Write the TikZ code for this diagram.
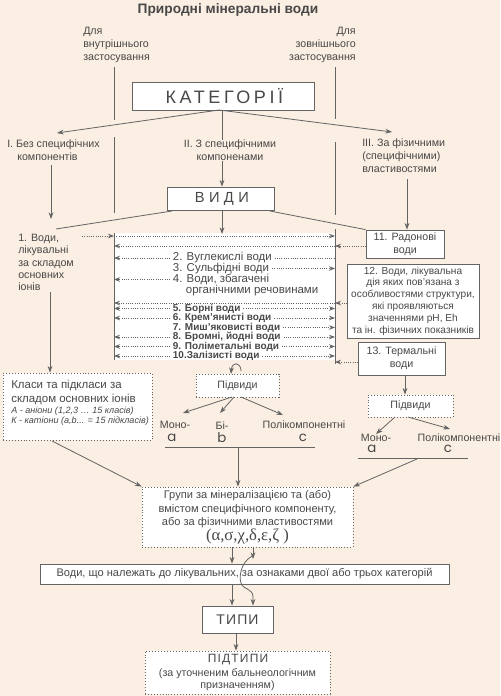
\documentclass[tikz,border=0pt]{standalone}
\usepackage{fontspec}
\setmainfont{Liberation Sans}
\newfontfamily\serifgr{Liberation Serif}
\newfontfamily\geo{Poppins}
\newfontfamily\katfont[LetterSpace=20]{Liberation Sans}
\newfontfamily\vidfont[LetterSpace=30]{Liberation Sans}
\newfontfamily\tipfont[LetterSpace=8]{Liberation Sans}
\newfontfamily\ptipfont[LetterSpace=10]{Liberation Sans}
\usetikzlibrary{arrows.meta}
\definecolor{bg}{RGB}{251,238,226}
\definecolor{txtc}{RGB}{72,72,72}
\definecolor{linec}{RGB}{100,100,100}
\newcommand{\fs}[2]{\fontsize{#1}{#2}\selectfont}
\begin{document}
\begin{tikzpicture}[x=0.75pt,y=-0.75pt,
  txt/.style={text=txtc,inner sep=0pt,font=\fs{8}{9.75}},
  box/.style={draw=linec,fill=white,line width=0.6pt,inner sep=0pt,text=txtc},
  dbox/.style={box,dash pattern=on 0.7pt off 1.5pt},
  ln/.style={draw=linec,line width=0.6pt},
  arr/.style={ln,-{Stealth[length=5pt,width=3.6pt]}},
  dln/.style={ln,dash pattern=on 0.6pt off 1.1pt},
  darr/.style={dln,-{Stealth[length=4.5pt,width=3.4pt]}},
  row/.style={txt,inner xsep=2pt,anchor=west,font=\fs{8.6}{10}},
  brow/.style={row,font=\bfseries\fs{7.5}{8.5}},
  geol/.style={txt,font=\geo\fs{10}{12}},
]
\useasboundingbox (0,0) rectangle (500,696);
\fill[bg] (0,0) rectangle (500,696);

% ---- top
\node[txt,font=\bfseries\fs{10.3}{12}] (title) at (228,10) {Природні мінеральні води};
\node[txt,align=left,anchor=west] (int) at (83,45) {Для\\внутрішнього\\застосування};
\node[txt,align=right,anchor=east] (ext) at (356,45) {Для\\зовнішнього\\застосування};
\node[box,minimum width=136.5pt,minimum height=21pt] (kat) at (223,96) {\katfont\fs{13.5}{15}\kern2pt КАТЕГОРІЇ};

\node[txt,align=left,anchor=west] (c1) at (7,150.5) {I. Без специфічних\\\hspace*{7.5pt}компонентів};
\node[txt,align=center] (c2) at (230,150.5) {II. З специфічними\\компоненами};
\node[txt,align=left,anchor=west] (c3) at (362,156) {III. За фізичними\\(специфічними)\\властивостями};

\node[box,minimum width=80.25pt,minimum height=17.25pt] (vid) at (220.5,198.5) {\vidfont\fs{11}{13}\kern2pt ВИДИ};

% helper coordinates
\coordinate (L) at (114,0);
\coordinate (R) at (335,0);
\coordinate (k0) at (219,110);
\coordinate (k1) at (57,133);
\coordinate (k3) at (392,132);
\coordinate (mx) at (222,0);

% vertical guide lines
\draw[ln] (114,67) -- (114,120);
\draw[ln] (114,137) -- (114,213);
\draw[ln] (335,67) -- (335,119);
\draw[ln] (335,142) -- (335,215);

% category connectors
\draw[arr] (k0) -- (k1);
\draw[arr] (k0) -- (k3);
\draw[ln] (kat.south -| mx) -- (c2.north -| mx);
\draw[arr] (c2.south -| mx) -- (vid.north -| mx);
\coordinate (c1a) at (51,165);
\coordinate (c1b) at (51,219);
\draw[arr] (c1a) -- (c1b);
\coordinate (c3a) at (407,179);

% ---- main block
\node[fill=white,inner sep=0pt,minimum width=165.75pt,minimum height=95.25pt] (blk) at (224.5,296.5) {};
\draw[ln] (114,233) -- (114,360);
\draw[ln] (335,229) -- (335,364);

\node[box,align=center,font=\fs{8}{9.75},minimum width=58.5pt,minimum height=21pt] (b11) at (405,244) {11. Радонові\\води};
\node[box,align=center,font=\fs{7.6}{8.85},minimum width=99pt,minimum height=55.5pt] (b12) at (413,301) {12. Води, лікувальна\\дія яких пов'язана з\\особливостями структури,\\які проявляються\\значеннями pH, Eh\\та ін. фізичних показників};
\node[box,align=center,font=\fs{8}{9.75},minimum width=65.25pt,minimum height=24.75pt] (b13) at (401.5,358.5) {13. Термальні\\води};

\draw[arr] (c3a) -- (c3a |- b11.north);

% VIDY connectors
\node[txt,align=left,anchor=west,font=\fs{8}{9.15}] (w1) at (18,262.5) {1. Води,\\лікувальні\\за складом\\основних\\іонів};
\coordinate (v1) at (172,211);
\coordinate (v1e) at (56,229);
\draw[ln] (v1) -- (v1e);
\draw[arr] (vid.south -| mx) -- (222,234);
\coordinate (v3) at (270,211);
\draw[ln] (v3) -- (b11.north west);

% dotted rows
\coordinate (a1) at (82,236);
\draw[darr] (a1) -- (a1 -| L);
\draw[darr] (a1 -| L) -- (a1 -| R);
\coordinate (a2) at (366,246);
\draw[darr] (a2) -- (a2 -| R);
\draw[darr] (a2 -| R) -- (a2 -| L);

\node[row] (r2) at (170,258) {2. Вуглекислі води};
\node[row] (r3) at (170,268.5) {3. Сульфідні води};
\node[row] (r4) at (170,279.5) {4. Води, збагачені};
\node[row] (r4b) at (183,291) {органічними речовинами};
\draw[darr] (r2.west) -- (r2.west -| L);
\draw[dln] (r2.east) -- (r2.east -| R);
\draw[darr] (r3.east) -- (r3.east -| R);
\draw[darr] (r4.west) -- (r4.west -| L);

\coordinate (a3) at (347,303);
\draw[darr] (a3) -- (a3 -| R);
\draw[darr] (a3 -| R) -- (a3 -| L);

\node[brow] (r5) at (170,308.5) {5. Борні води};
\node[brow] (r6) at (170,318) {6. Крем'янисті води};
\node[brow] (r7) at (170,327.5) {7. Миш'яковисті води};
\node[brow] (r8) at (170,337) {8. Бромні, йодні води};
\node[brow] (r9) at (170,346.5) {9. Поліметальні води};
\node[brow] (r10) at (170,356) {10.Залізисті води};
\foreach \r in {r5,r6,r8,r9,r10} {\draw[darr] (\r.west) -- (\r.west -| L);}
\foreach \r in {r5,r6,r7,r8,r9,r10} {\draw[darr] (\r.east) -- (\r.east -| R);}
\coordinate (a4) at (358,362);
\draw[darr] (a4) -- (a4 -| R);

% ---- right subtypes
\node[dbox,font=\fs{8}{10},minimum width=63.75pt,minimum height=16.5pt] (pvR) at (410.5,406) {Підвиди};
\coordinate (bx) at (405,0);
\draw[arr] (b13.south -| bx) -- (pvR.north -| bx);
\node[txt] (mR) at (376,438) {Моно-};
\node[geol] (aR) at (372,449) {a};
\node[txt] (pR) at (459,438) {Полікомпонентні};
\node[geol] (cR) at (448,449) {c};
\coordinate (pr1) at (395,417);
\coordinate (pr2) at (408,417);
\coordinate (pr3) at (450,429);
\draw[arr] (pr1) -- (mR.north);
\draw[arr] (pr2) -- (pr3);
\coordinate (uR1) at (358,458);
\coordinate (uR2) at (468,458);
\draw[ln] (uR1) -- (uR2);

% ---- middle subtypes
\node[dbox,font=\fs{8}{10},minimum width=62.25pt,minimum height=17.25pt] (pvM) at (237.5,385.5) {Підвиди};
\coordinate (cu) at (241,371);
\draw[arr] (cu) .. controls (241,362) and (232,361) .. (231,374);
\node[txt] (mM) at (175,425) {Моно-};
\node[geol] (aM) at (172,438) {a};
\node[txt] (bM) at (222,426) {Бі-};
\node[geol] (bbM) at (222,438) {b};
\node[txt] (pM) at (304,425) {Полікомпонентні};
\node[geol] (cM) at (303,438) {c};
\coordinate (pm1) at (232,397);
\coordinate (pm2) at (234,397);
\coordinate (pm3) at (241,397);
\draw[arr] (pm1) -- (183,413);
\draw[arr] (pm2) -- (220,413);
\draw[arr] (pm3) -- (283,415);
\coordinate (uM1) at (165,447);
\coordinate (uM2) at (315,447);
\draw[ln] (uM1) -- (uM2);

% ---- classes box
\node[dbox,minimum width=111.75pt,minimum height=50.25pt] (kls) at (77.5,406.5) {};
\node[txt,anchor=west,font=\fs{8.6}{10}] (kl1) at (11,385) {Класи та підкласи за};
\node[txt,anchor=west,font=\fs{8.6}{10}] (kl2) at (11,399.5) {складом основних іонів};
\node[txt,anchor=west,font=\itshape\fs{6.8}{8}] (kl3) at (11,411) {А - аніони (1,2,3 … 15 класів)};
\node[txt,anchor=west,font=\itshape\fs{6.8}{8}] (kl4) at (11,421) {К - катіони (а,b... = 15 підкласів)};
\coordinate (wx) at (50,292);
\draw[arr] (wx) -- (kls.north -| wx);

% ---- groups
\node[dbox,minimum width=158.25pt,minimum height=45pt] (grp) at (247.5,517) {};
\node[txt,font=\fs{8.3}{10}] (g1) at (247.5,496) {Групи за мінералізацією та (або)};
\node[txt,font=\fs{8.3}{10}] (g2) at (247.5,509.5) {вмістом специфічного компоненту,};
\node[txt,font=\fs{8.3}{10}] (g3) at (247.5,523) {або за фізичними властивостями};
\node[txt,font=\serifgr\fs{12.5}{14}] (g4) at (247.5,536.5) {(α,σ,χ,δ,ε,ζ )};

\coordinate (kx) at (52,441);
\draw[arr] (kx) -- (grp.north west);
\coordinate (my) at (238,0);
\draw[arr] (uM1 -| my) -- (grp.north -| my);
\coordinate (ux) at (417,459);
\draw[arr] (ux) -- (grp.north east);

% ---- bottom
\node[box,font=\fs{8.3}{10},minimum width=306.75pt,minimum height=15pt] (vod) at (244.5,574) {Води, що належать до лікувальних, за ознаками двої або трьох категорій};
\node[box,minimum width=53.25pt,minimum height=20.25pt] (tip) at (237.5,619.5) {\tipfont\fs{10.5}{12}ТИПИ};
\node[dbox,minimum width=138.75pt,minimum height=32.25pt] (ptip) at (237.5,672.5) {};
\node[txt,font=\ptipfont\fs{9}{10}] (pt1) at (238,660) {ПІДТИПИ};
\node[txt] (pt2) at (237.5,674) {(за уточненим бальнеологічним};
\node[txt] (pt3) at (237.5,686) {призначенням)};

\coordinate (x1) at (232,0);
\coordinate (x2) at (253,0);
\draw[arr] (grp.south -| x1) -- (vod.north -| x1);
\draw[arr] (grp.south -| x2) -- (253,559);
\coordinate (cs) at (252,556);
\draw[arr] (cs) .. controls (240,563) and (239,578) .. (241,583) .. controls (243,590) and (253,588) .. (253,597) -- (tip.north -| x2);
\draw[arr] (vod.south -| x1) -- (tip.north -| x1);
\coordinate (x3) at (236,0);
\draw[arr] (tip.south -| x3) -- (ptip.north -| x3);
\end{tikzpicture}
\end{document}
